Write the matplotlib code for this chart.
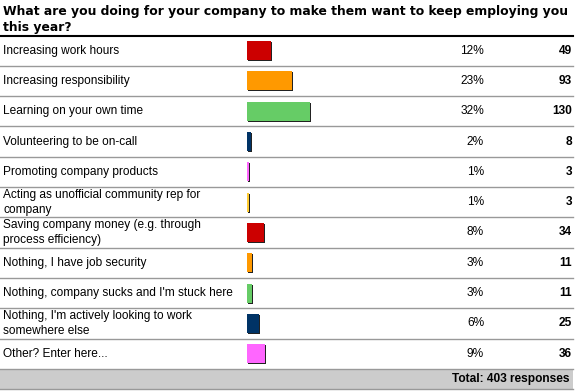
import matplotlib.pyplot as plt
from matplotlib.patches import Rectangle

plt.rcParams['font.family'] = ['Liberation Sans', 'DejaVu Sans']

title = "What are you doing for your company to make them want to keep employing you\nthis year?"
answers = [
    "Increasing work hours",
    "Increasing responsibility",
    "Learning on your own time",
    "Volunteering to be on-call",
    "Promoting company products",
    "Acting as unofficial community rep for\ncompany",
    "Saving company money (e.g. through\nprocess efficiency)",
    "Nothing, I have job security",
    "Nothing, company sucks and I'm stuck here",
    "Nothing, I'm actively looking to work\nsomewhere else",
    "Other? Enter here...",
]
percents = [12, 23, 32, 2, 1, 1, 8, 3, 3, 6, 9]
counts = [49, 93, 130, 8, 3, 3, 34, 11, 11, 25, 36]
total = 403
colors = ["#cc0000", "#ff9900", "#66cc66", "#003366", "#ff66ff", "#ffcc33"]

fig = plt.figure(figsize=(5.76, 3.92), dpi=100)
ax = fig.add_axes([0, 0, 1, 1])
# work in pixel units so the table lines up
ax.set_xlim(0, 576)
ax.set_ylim(392, 0)
ax.axis('off')

top = 35.5
row_h = 30.3
bar_left = 247
px_per_pct = 1.96
bar_h = 19

ax.text(3, 19.5, title, fontsize=8.9, fontweight='bold', family='DejaVu Sans',
        va='center', ha='left', linespacing=1.25)
ax.plot([0, 573], [top, top], color='black', lw=1.5)

for i, (lab, p, c) in enumerate(zip(answers, percents, counts)):
    yc = top + (i + 0.5) * row_h
    col = colors[i % len(colors)]
    w = max(c / total * 100 * px_per_pct, 2)
    # shadow then bar
    ax.barh(yc + 1, w, left=bar_left + 1, height=bar_h, color='#222222', lw=0)
    ax.barh(yc, w, left=bar_left, height=bar_h, color=col, lw=0)
    ax.text(3, yc, lab, fontsize=8.6, va='center', ha='left', linespacing=1.3)
    ax.text(484, yc, f"{p}%", fontsize=8.6, va='center', ha='right')
    ax.text(572, yc, str(c), fontsize=8.6, fontweight='bold', va='center', ha='right')
    ax.plot([0, 573], [top + (i + 1) * row_h] * 2, color='#999999', lw=1)

band_top = top + len(answers) * row_h + 1
ax.add_patch(Rectangle((0, band_top), 573, 19, color='#cccccc', lw=0))
ax.plot([0, 573], [band_top + 19] * 2, color='#999999', lw=1)
ax.text(570, band_top + 9.5, f"Total: {total} responses", fontsize=8.6,
        fontweight='bold', va='center', ha='right')

fig.savefig('out.png', dpi=100, facecolor='white')
